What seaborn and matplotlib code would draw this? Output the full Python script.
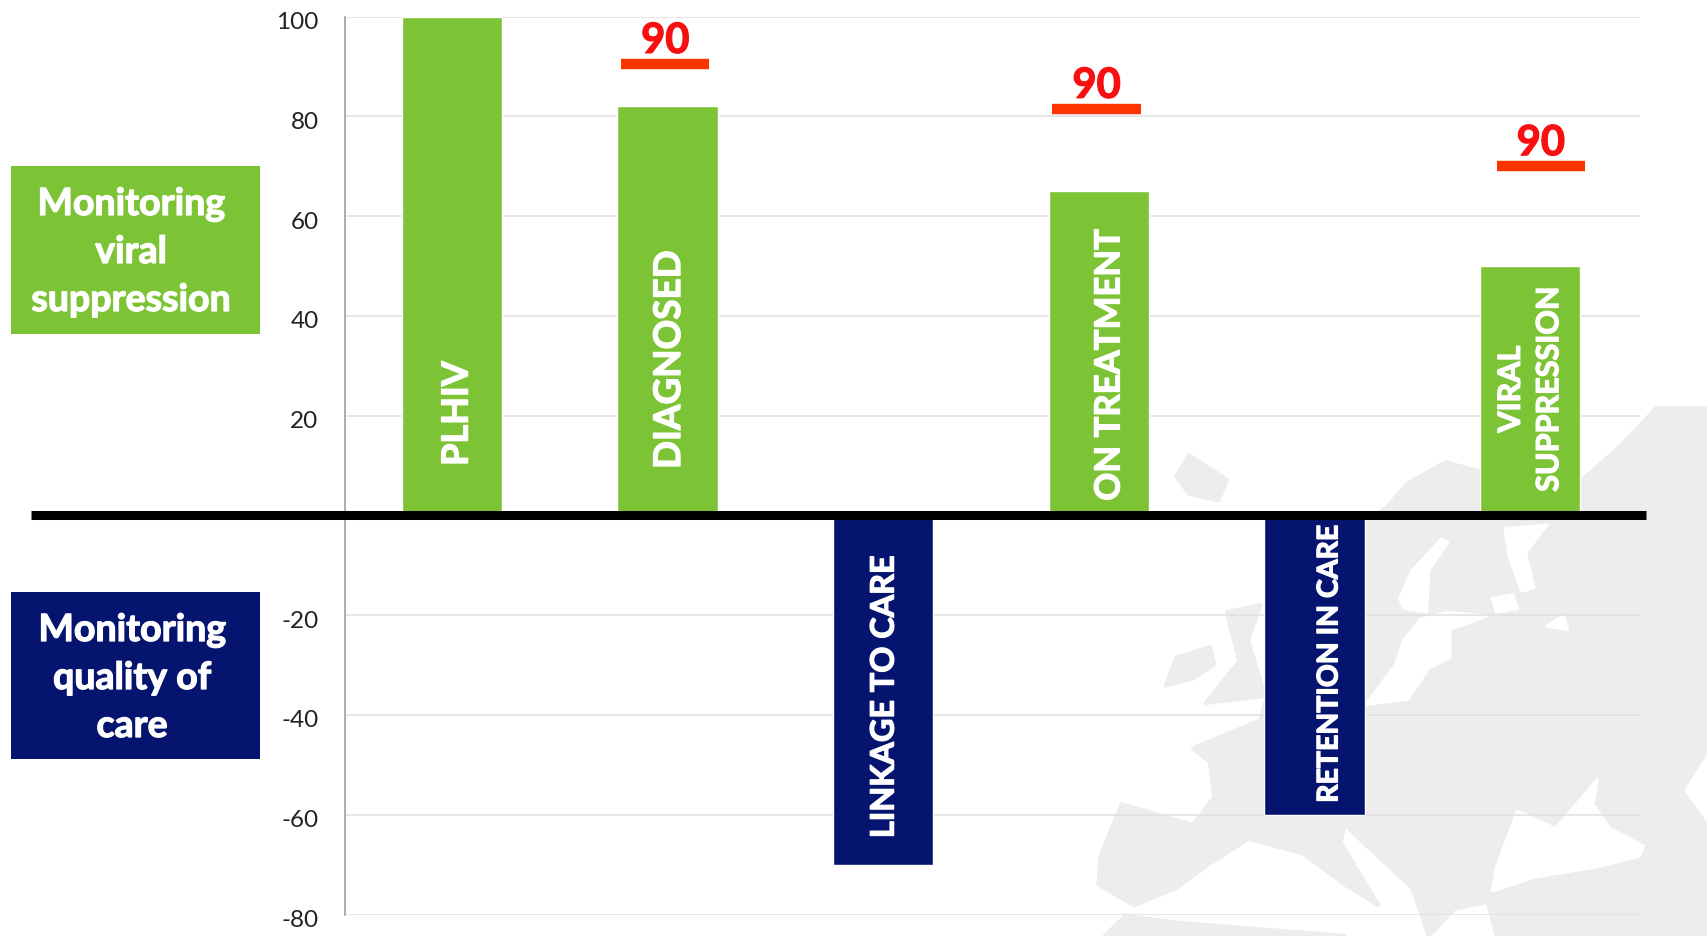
import matplotlib
matplotlib.use('Agg')
import matplotlib.pyplot as plt
import matplotlib.patheffects as pe
from matplotlib.patches import Polygon, Rectangle
from matplotlib.transforms import ScaledTranslation
import pandas as pd
import seaborn as sns

stages = ['PLHIV', 'DIAGNOSED', 'LINKAGE TO CARE', 'ON TREATMENT', 'RETENTION IN CARE', 'VIRAL\nSUPPRESSION']
values = [100, 82, -70, 65, -60, 50]
groups = ['viral', 'viral', 'care', 'viral', 'care', 'viral']
target_stages = ['DIAGNOSED', 'ON TREATMENT', 'VIRAL\nSUPPRESSION']
target_levels = [90.5, 81.5, 70]
target_labels = ['90', '90', '90']
y_ticks = [-80, -60, -40, -20, 20, 40, 60, 80, 100]

GREEN = '#7dc336'
NAVY = '#05146f'
RED = '#ff3300'
LAND = '#ededed'
W, H = 1708, 937

# bar label placement: x shift from bar centre, y centre, font size
label_style = [(0.025, 20.4, 26), (0.01, 31.2, 26.5), (0.005, -36.3, 23.3), (0.05, 30.2, 25), (0.07, -29.8, 20.5), (0.0, 25.3, 22)]
# target bar x shift from bar centre
target_shift = [-0.01, -0.01, 0.05]

# rough outline of europe behind the chart, in zoom crop coordinates
mainland = [(1440, 55), (1563, 55), (1563, 1568), (1060, 1568), (1040, 1470), (960, 1490), (900, 1568), (860, 1430),
            (700, 1250), (690, 1300), (780, 1480), (700, 1420), (600, 1330), (470, 1290), (380, 1360), (300, 1430),
            (200, 1480), (115, 1420), (120, 1340), (170, 1190), (340, 1250), (390, 1170), (380, 1070), (340, 1030),
            (500, 950), (510, 900), (700, 880), (640, 780), (560, 640), (600, 500), (800, 340), (850, 270), (940, 210),
            (1030, 240), (1265, 260), (1350, 170)]
islands = [[(330, 190), (420, 260), (400, 320), (330, 300), (300, 250)],
           [(300, 770), (380, 740), (390, 790), (340, 830), (275, 850)],
           [(420, 640), (500, 620), (470, 720), (510, 880), (370, 900), (450, 780)],
           [(130, 1568), (180, 1510), (300, 1530), (700, 1568)]]
seas = [[(1060, 1370), (1110, 1210), (1200, 1260), (1300, 1120), (1290, 1190), (1330, 1260), (1410, 1310), (1400, 1340),
         (1300, 1370), (1150, 1400), (1050, 1440)],
        [(1563, 1050), (1510, 1150), (1563, 1240)],
        [(930, 430), (945, 440), (900, 520), (895, 640), (840, 630), (830, 600), (860, 520)],
        [(880, 660), (940, 640), (1040, 650), (950, 690), (950, 770), (900, 800), (850, 890), (750, 905), (820, 790), (840, 720)],
        [(1050, 600), (1100, 590), (1110, 630), (1060, 640)],
        [(1180, 680), (1220, 650), (1230, 690)],
        [(1080, 400), (1180, 390), (1130, 470), (1150, 570), (1120, 580), (1090, 480)]]


def crop_to_px(points):
    return [(1050 + x / 2.375, 390 + y / 2.867) for x, y in points]


def thicken(color):
    # lato bold is a bit thinner than the reference lettering
    return [pe.withStroke(linewidth=0.9, foreground=color)]


sns.set_theme(style='white')
plt.rcParams['font.family'] = ['Lato', 'DejaVu Sans']

fig = plt.figure(figsize=(W / 100, H / 100), dpi=100, facecolor='white')

bg = fig.add_axes([0, 0, 1, 1], zorder=0)
bg.set_xlim(0, W)
bg.set_ylim(H, 0)
bg.axis('off')
bg.add_patch(Polygon(crop_to_px(mainland), fc=LAND, ec=LAND, lw=3, joinstyle='round'))
for shape in islands:
    bg.add_patch(Polygon(crop_to_px(shape), fc=LAND, ec=LAND, lw=3, joinstyle='round'))
for shape in seas:
    bg.add_patch(Polygon(crop_to_px(shape), fc='white', ec='white', lw=2, joinstyle='round'))

# side boxes
bg.add_patch(Rectangle((11, 166.5), 249, 168.5, fc=GREEN, ec='none'))
bg.add_patch(Rectangle((11, 592.5), 249, 167.5, fc=NAVY, ec='none'))
bg.text(131, 253, 'Monitoring\nviral\nsuppression', color='white', fontsize=27, fontweight='bold',
        ha='center', va='center', linespacing=1.5, path_effects=thicken('white'))
bg.text(132, 679, 'Monitoring\nquality of\ncare', color='white', fontsize=27, fontweight='bold',
        ha='center', va='center', linespacing=1.5, path_effects=thicken('white'))

ax = fig.add_axes([345 / W, 1 - 915.5 / H, (1640 - 345) / W, (915.5 - 17.5) / H], zorder=1)
ax.patch.set_alpha(0)

df = pd.DataFrame({'stage': stages, 'value': values, 'group': groups})
sns.barplot(data=df, x='stage', y='value', hue='group', order=stages, palette={'viral': GREEN, 'care': NAVY},
            dodge=False, width=0.465, saturation=1, legend=False, zorder=3, ax=ax)

ax.set_xlim(-0.495, 5.51)
ax.set_ylim(-80, 100)
ax.set_xlabel('')
ax.set_ylabel('')
ax.set_xticks([])
ax.set_yticks(y_ticks)
ax.set_yticklabels([str(t) for t in y_ticks], fontsize=17.5, color='#222222')
ax.tick_params(axis='y', length=0, pad=19)
for lab in ax.get_yticklabels():
    lab.set_transform(lab.get_transform() + ScaledTranslation(0, -3 / 100, fig.dpi_scale_trans))
ax.grid(axis='y', color='#e2e2e2', lw=1.2, zorder=1)
ax.set_axisbelow(True)
for side in ['top', 'right', 'bottom']:
    ax.spines[side].set_visible(False)
ax.spines['left'].set_color('#a0a0a0')
ax.spines['left'].set_linewidth(1.2)

# thick zero line runs past the axes on both sides
ax.plot([-1.95, 5.54], [0, 0], color='black', lw=6.5, solid_capstyle='butt', clip_on=False, zorder=5)

for i, stage in enumerate(stages):
    dx, yc, size = label_style[i]
    ax.text(i + dx, yc, stage, rotation=90, color='white', fontsize=size, fontweight='bold',
            ha='center', va='center', linespacing=1.45, multialignment='center', zorder=6,
            path_effects=thicken('white'))

for stage, level, text, shift in zip(target_stages, target_levels, target_labels, target_shift):
    x = stages.index(stage) + shift
    ax.hlines(level, x - 0.205, x + 0.205, color=RED, lw=7.5, zorder=6)
    ax.text(x, level + 0.8, text, color='#f81010', fontsize=30, fontweight='bold', ha='center', va='bottom', zorder=6,
            path_effects=thicken('#f81010'))

fig.savefig('out.png', dpi=100)
